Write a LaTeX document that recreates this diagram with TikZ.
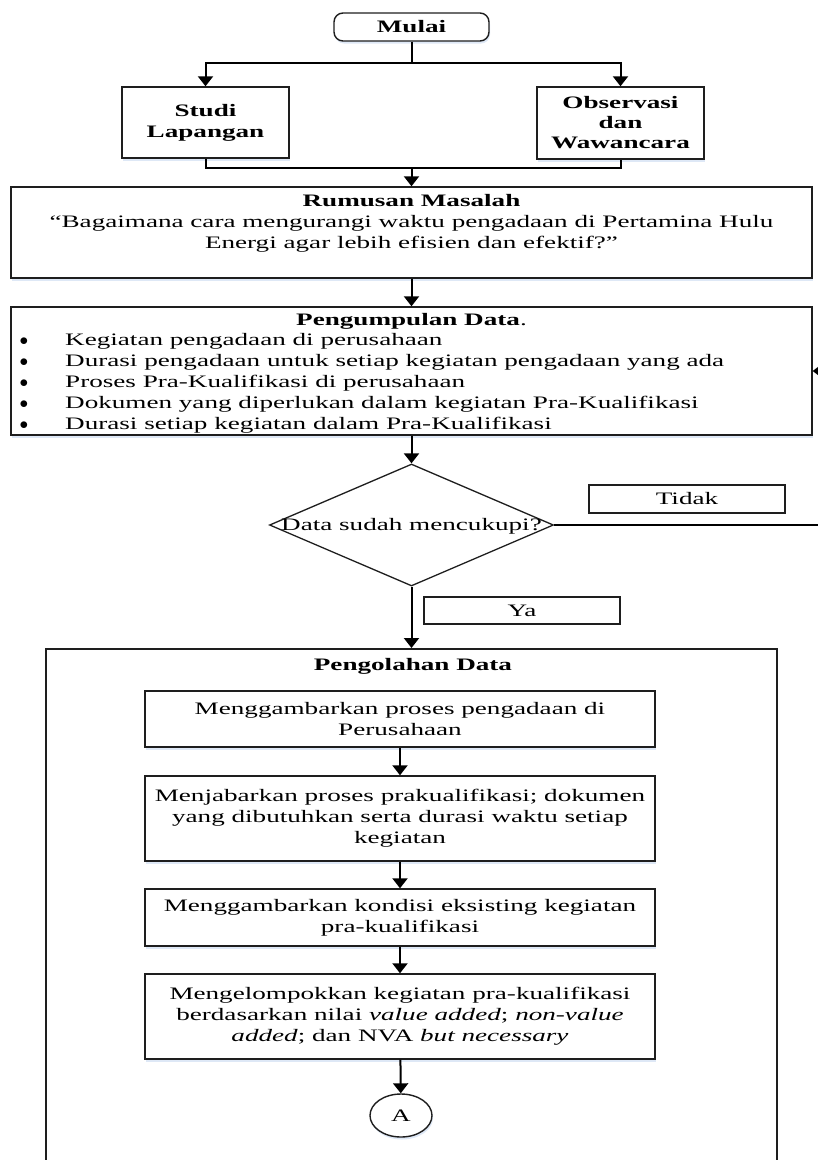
\documentclass[tikz,border=0pt]{standalone}
\usepackage{fontspec}
\setmainfont{Liberation Serif}[FakeStretch=1.55]
\usetikzlibrary{arrows.meta,shapes.geometric,shadows,calc}
\definecolor{shadowblue}{RGB}{222,232,246}
\definecolor{ink}{RGB}{30,30,30}
\newcommand{\bul}{\makebox[48pt][l]{\hspace{2.5pt}$\bullet$}}

\begin{document}
\begin{tikzpicture}[x=1pt,y=-1pt,
  font=\fontsize{17.5}{21}\selectfont,
  every node/.style={inner sep=0pt},
  box/.style={draw=ink, line width=1.4pt, fill=white,
    drop shadow={shadow xshift=1pt, shadow yshift=-2.5pt, fill=shadowblue, opacity=1}},
  tag/.style={draw=ink, line width=1.1pt, fill=white},
  flow/.style={line width=2pt, draw=black},
  arr/.style={flow, -{Triangle[width=15pt,length=10pt]}},
  inner/.style={box, minimum width=510, align=center},
]
\useasboundingbox (0,0) rectangle (818,1160);
\clip (0,0) rectangle (818,1160);

% start and the two study boxes
\node[box, rounded corners=9pt, minimum width=155, minimum height=28] (mulai) at (411.5,27) {\textbf{Mulai}};
\node[box, minimum width=167, minimum height=71, align=center, font=\fontsize{17.5}{21}\selectfont\bfseries] (studi) at (205.5,122.5) {Studi\\Lapangan};
\node[box, minimum width=167, minimum height=72, align=center, font=\fontsize{17.5}{20}\selectfont\bfseries] (obs) at (620.5,123) {Observasi\\dan\\Wawancara};

% problem statement
\node[box, minimum width=801, minimum height=91] (rum) at (411.5,232.5) {};
\node[anchor=north, align=center] (rumtxt) at ($(rum.north)+(0,8)$)
  {\textbf{Rumusan Masalah}\\``Bagaimana cara mengurangi waktu pengadaan di Pertamina Hulu\\Energi agar lebih efisien dan efektif?''};

% data collection
\node[box, minimum width=801, minimum height=128] (pk) at (411.5,371) {};
\node[anchor=north] (pktitle) at (411.5,313) {\textbf{Pengumpulan Data}.};
\node[anchor=north west, align=left] (pklist) at (17,333)
  {\bul Kegiatan pengadaan di perusahaan\\
   \bul Durasi pengadaan untuk setiap kegiatan pengadaan yang ada\\
   \bul Proses Pra-Kualifikasi di perusahaan\\
   \bul Dokumen yang diperlukan dalam kegiatan Pra-Kualifikasi\\
   \bul Durasi setiap kegiatan dalam Pra-Kualifikasi};

% decision
\node[draw=ink, line width=1.3pt, diamond, fill=white, minimum width=284, minimum height=122] (dia) at (411.5,525) {};
\node (diatxt) at (411.5,526) {Data sudah mencukupi?};
\node[tag, minimum width=196, minimum height=28] (tidak) at (687,499) {Tidak};
\node[tag, minimum width=196, minimum height=27] (ya) at (522,610.5) {Ya};

% data processing
\node[draw=ink, line width=1.6pt, minimum width=731, minimum height=600, anchor=north] (olah) at (411.5,648) {};
\node[anchor=north] (olahtitle) at (413,658) {\textbf{Pengolahan Data}};
\node[inner, minimum height=56] (b1) at (400,719) {Menggambarkan proses pengadaan di\\Perusahaan};
\node[inner, minimum height=85] (b2) at (400,818.5) {Menjabarkan proses prakualifikasi; dokumen\\yang dibutuhkan serta durasi waktu setiap\\kegiatan};
\node[inner, minimum height=57] (b3) at (400,917.5) {Menggambarkan kondisi eksisting kegiatan\\pra-kualifikasi};
\node[inner, minimum height=85] (b4) at (400,1016.5) {Mengelompokkan kegiatan pra-kualifikasi\\berdasarkan nilai \textit{value added}; \textit{non-value}\\\textit{added}; dan NVA \textit{but necessary}};
\node[box, ellipse, minimum width=62, minimum height=43] (conA) at (401,1115.5) {A};

% connectors
\coordinate (split) at (411.5,63);
\coordinate (join) at (411.5,168);
\draw[flow] (mulai.south) -- (split);
\draw[arr] (split) -| (studi.north);
\draw[arr] (split) -| (obs.north);
\draw[flow] (studi.south) |- (join) -| (obs.south);
\draw[arr] (join) -- (rum.north);
\draw[arr] (rum.south) -- (pk.north);
\draw[arr] (pk.south) -- (dia.north);
\draw[arr] (dia.south) -- (olah.north);
\draw[arr] (dia.east) -- ++(280,0) |- (pk.east);
\draw[arr] (b1) -- (b2);
\draw[arr] (b2) -- (b3);
\draw[arr] (b3) -- (b4);
\draw[arr] (b4) -- (conA);
\end{tikzpicture}
\end{document}
